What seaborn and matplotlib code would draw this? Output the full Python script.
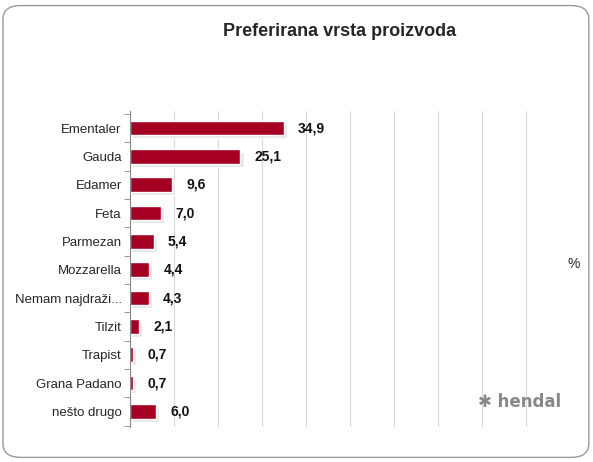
import matplotlib.pyplot as plt
import seaborn as sns
import pandas as pd
from matplotlib.patches import FancyBboxPatch

cats = ["Ementaler", "Gauda", "Edamer", "Feta", "Parmezan", "Mozzarella",
        "Nemam najdraži...", "Tilzit", "Trapist", "Grana Padano", "nešto drugo"]
vals = [34.9, 25.1, 9.6, 7.0, 5.4, 4.4, 4.3, 2.1, 0.7, 0.7, 6.0]
df = pd.DataFrame({"cat": cats, "val": vals})

sns.set_style("white")
plt.rcParams['font.family'] = ['Liberation Sans', 'DejaVu Sans']
fig = plt.figure(figsize=(5.93, 4.62), dpi=100)
fig.patches.append(FancyBboxPatch((0.005, 0.01), 0.988, 0.978, boxstyle="round,pad=0,rounding_size=0.03",
                                  transform=fig.transFigure, fc='white', ec='#999999', lw=1, zorder=-10))
ax = fig.add_axes([130/593, 1 - 427/462, 440/593, 316/462])
ax.set_facecolor('none')
# soft shadow
ax.barh([i + 0.1 for i in range(len(vals))], [v + 0.5 for v in vals], left=0.2, height=0.52,
        color='#e6e6e6', zorder=1)
sns.barplot(data=df, y="cat", x="val", color='#A50021', saturation=1, width=0.52, ax=ax, zorder=2)
for i, v in enumerate(vals):
    ax.text(v + 3.2, i, f"{v:.1f}".replace('.', ','), va='center', ha='left',
            fontsize=10, fontweight='bold', color='#111111')
ax.set_xlim(0, 100)
ax.set_ylim(len(vals) - 0.45, -0.6)
ax.set_xticks(range(0, 101, 10))
ax.set_xticklabels([])
ax.tick_params(axis='x', length=0)
ax.set_yticks([i + 0.5 for i in range(-1, len(vals))], minor=True)
ax.tick_params(axis='y', which='major', length=0, labelsize=9.5, pad=6)
ax.tick_params(axis='y', which='minor', length=4, color='#888888', left=True)
ax.grid(axis='x', color='#d9d9d9', lw=0.8)
for s in ['top', 'right', 'bottom']:
    ax.spines[s].set_visible(False)
ax.spines['left'].set_color('#888888')
ax.set_xlabel('')
ax.set_ylabel('')
fig.text(340/593, 1 - 32/462, "Preferirana vrsta proizvoda", ha='center', va='center',
         fontsize=13, fontweight='bold')
fig.text(574/593, 1 - 264/462, "%", ha='center', va='center', fontsize=10)
fig.text(520/593, 1 - 402/462, "✱ hendal", ha='center', va='center', fontsize=12,
         fontweight='bold', color='#888888', family=['DejaVu Sans'])
fig.savefig("out.png", dpi=100)
